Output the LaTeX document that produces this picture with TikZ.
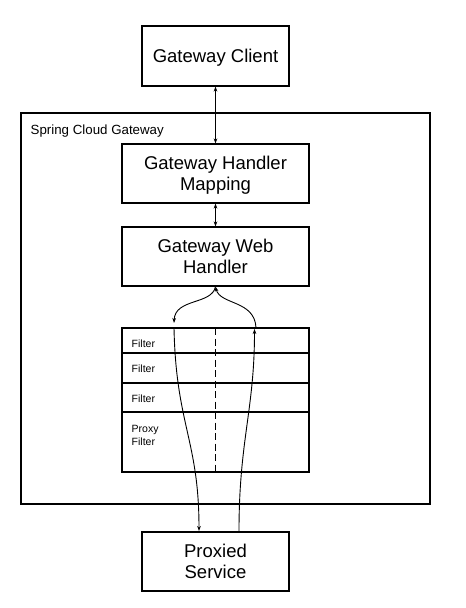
\documentclass[tikz,border=0pt]{standalone}
\usepackage{fontspec}
\setmainfont{Liberation Sans}
\usetikzlibrary{arrows.meta}
\begin{document}
\begin{tikzpicture}[x=1pt,y=-1pt,
  box/.style={draw,line width=1.1pt,inner sep=0pt,align=center,text depth=0pt,
    font=\fontsize{18.5}{21.5}\selectfont},
  conn/.style={line width=0.9pt,-{Stealth[length=5pt,width=3.6pt]}},
  biconn/.style={line width=0.9pt,{Stealth[length=5pt,width=3.6pt]}-{Stealth[length=5pt,width=3.6pt]}},
  flabel/.style={anchor=west,inner sep=0pt,align=left,
    font=\fontsize{10.5}{13}\selectfont},
  frame/.style={draw,line width=1.1pt}]
\useasboundingbox (0,0) rectangle (466,608);
% outer frame
\draw[frame] (21,113) rectangle (430,504);
\node[anchor=west,inner sep=0pt,font=\fontsize{13.3}{15}\selectfont] (scg) at (30.5,131) {Spring Cloud Gateway};
% boxes
\node[box,minimum width=147pt,minimum height=60pt] (client) at (215.5,56) {Gateway Client};
\node[box,minimum width=187pt,minimum height=59pt] (hm) at (215.5,173.5) {Gateway Handler\\Mapping};
\node[box,minimum width=187pt,minimum height=59pt] (wh) at (215.5,256.5) {Gateway Web\\Handler};
\node[box,minimum width=147pt,minimum height=59pt] (ps) at (215.5,561.5) {Proxied\\Service};
% filter chain
\draw[frame] (122,328) rectangle (309,472);
\draw[frame] (122,353) -- (309,353);
\draw[frame] (122,383) -- (309,383);
\draw[frame] (122,412) -- (309,412);
\draw[line width=1pt,dash pattern=on 7pt off 3.5pt] (215,328) -- (215,472);
\node[flabel] (f1) at (131.5,343.3) {Filter};
\node[flabel] (f2) at (131.5,369) {Filter};
\node[flabel] (f3) at (131.5,398.3) {Filter};
\node[flabel] (pf) at (131.5,435) {Proxy\\Filter};
% vertical connectors
\draw[biconn] (client.south) -- (hm.north);
\draw[biconn] (hm.south) -- (wh.north);
% flow curves
\coordinate (ltip) at (174,323);
\coordinate (lstart) at (174,328);
\coordinate (rtip) at (254.5,329);
\coordinate (rstart) at (256,328);
\coordinate (psin) at (199,531);
\coordinate (psout) at (239,531);
\draw[conn] (wh.south) .. controls (212,305) and (175,298) .. (ltip);
\draw[conn] (rstart) .. controls (255,300) and (220,305) .. (wh.south);
\draw[conn] (lstart) .. controls (176,425) and (199,440) .. (psin);
\draw[conn] (psout) .. controls (239,440) and (254.5,410) .. (rtip);
\end{tikzpicture}
\end{document}
